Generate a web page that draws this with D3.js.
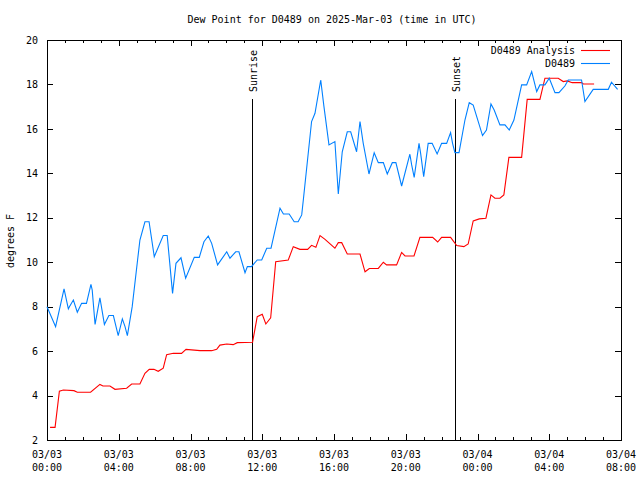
<!DOCTYPE html>
<html>
<head>
<meta charset="utf-8">
<script src="https://cdn.jsdelivr.net/npm/d3@7"></script>
<style>
  html, body { margin: 0; padding: 0; background: #fff; }
  svg { display: block; }
  text { font-family: "DejaVu Sans Mono", "Liberation Mono", monospace; font-size: 10px; fill: #000; }
</style>
</head>
<body>
<script>
// ---- data (hours since 2025-03-03 00:00 UTC, degrees F) ----
const titleText = "Dew Point for D0489 on 2025-Mar-03 (time in UTC)";
const yLabelText = "degrees F";
const seriesNames = ["D0489 Analysis", "D0489"];
const seriesColors = ["#ff0000", "#0080ff"];
const yTicks = [2, 4, 6, 8, 10, 12, 14, 16, 18, 20];
const eventNames = ["Sunrise", "Sunset"];
const eventHours = [11.43, 22.74];

const obsHours = [0,0.48,0.95,1.19,1.25,1.47,1.69,1.93,2.2,2.45,2.52,2.68,2.95,3.2,3.45,3.7,3.97,4.2,4.35,4.48,4.75,5.05,5.18,5.46,5.69,5.98,6.48,6.7,7.0,7.19,7.47,7.73,8.21,8.49,8.75,8.99,9.18,9.51,10.02,10.2,10.52,10.7,11.04,11.17,11.4,11.72,11.97,12.25,12.49,12.99,13.18,13.5,13.78,14.0,14.2,14.3,14.75,14.94,15.26,15.44,15.72,16.05,16.24,16.46,16.74,16.93,17.26,17.45,17.63,17.95,18.24,18.47,18.75,18.97,19.25,19.45,19.77,20.23,20.33,20.47,20.74,20.83,21.0,21.25,21.47,21.75,22.0,22.28,22.5,22.61,22.74,22.97,23.3,23.54,23.76,24.28,24.5,24.75,24.93,25.25,25.53,25.77,26.03,26.46,26.74,27.02,27.3,27.48,27.76,28.0,28.32,28.54,28.87,29.06,29.8,29.99,30.45,31.29,31.47,31.81];
const obsValues = [8.0,7.1,8.8,7.9,8.0,8.3,7.75,8.15,8.15,9.0,8.75,7.2,8.4,7.2,7.6,7.6,6.7,7.45,7.1,6.7,8.0,10.1,11.0,11.82,11.82,10.25,11.2,11.2,8.6,9.95,10.2,9.28,10.22,10.22,10.92,11.18,10.85,9.88,10.47,10.18,10.47,10.47,9.53,9.8,9.8,10.1,10.1,10.63,10.63,12.43,12.17,12.17,11.82,11.82,12.13,12.88,16.33,16.7,18.2,17.0,15.28,15.43,13.07,14.97,15.87,15.87,14.97,16.33,15.35,13.97,14.93,14.48,14.48,13.97,14.48,14.48,13.43,14.86,14.38,13.82,15.35,14.9,13.85,15.35,15.35,14.87,15.35,15.35,15.83,15.35,14.93,14.93,16.4,17.18,17.07,15.7,15.95,17.12,16.85,16.18,16.18,15.95,16.4,17.98,17.98,18.58,17.68,17.98,17.98,18.28,17.63,17.63,17.93,18.2,18.2,17.23,17.78,17.78,18.1,17.78];

const anaHours = [0.17,0.45,0.69,0.91,1.5,1.69,2.43,2.95,3.12,3.51,3.79,4.44,4.72,5.18,5.46,5.7,5.96,6.2,6.48,6.67,7.04,7.5,7.75,8.53,9.18,9.46,9.64,10.02,10.38,10.61,11.46,11.72,12.0,12.2,12.47,12.75,13.45,13.73,14.1,14.53,14.75,14.99,15.22,15.5,16.05,16.24,16.43,16.74,17.45,17.73,17.97,18.47,18.75,18.93,19.49,19.77,19.96,20.46,20.79,21.5,21.78,22.0,22.5,22.84,23.24,23.48,23.76,24.1,24.47,24.75,24.97,25.25,25.47,25.75,26.46,26.77,27.48,27.76,28.5,28.78,29.0,29.28,29.8,29.9,30.5];
const anaValues = [2.57,2.57,4.2,4.25,4.22,4.15,4.15,4.5,4.43,4.43,4.28,4.33,4.52,4.52,5.0,5.18,5.18,5.09,5.23,5.84,5.9,5.9,6.08,6.02,6.02,6.08,6.27,6.32,6.29,6.38,6.4,7.55,7.66,7.22,7.5,10.02,10.1,10.7,10.58,10.58,10.76,10.67,11.2,11.03,10.63,10.88,10.88,10.37,10.37,9.57,9.72,9.72,10.0,9.88,9.88,10.44,10.28,10.28,11.12,11.12,10.91,11.12,11.12,10.75,10.7,10.82,11.86,11.95,11.98,13.03,12.88,12.88,13.03,14.72,14.72,17.33,17.33,18.28,18.28,18.13,18.16,18.08,18.08,18.02,18.02];

// ---- layout ----
const W = 640, H = 480;
const mLeft = 47, mRight = 621, mTop = 40, mBottom = 440;
const t0 = Date.UTC(2025, 2, 3, 0, 0);
const t1 = Date.UTC(2025, 2, 4, 8, 0);
const toDate = h => new Date(t0 + h * 3600000);

const x = d3.scaleUtc().domain([new Date(t0), new Date(t1)]).range([mLeft, mRight]);
const y = d3.scaleLinear().domain([2, 20]).range([mBottom, mTop]);

const svg = d3.select("body").append("svg").attr("width", W).attr("height", H);

// title
svg.append("text").attr("x", 332).attr("y", 23).attr("text-anchor", "middle").text(titleText);
// y label
svg.append("text").attr("transform", "translate(14,241) rotate(-90)").attr("text-anchor", "middle").text(yLabelText);

const axisG = svg.append("g").attr("shape-rendering", "crispEdges");

// y ticks (left & right, inward)
const fmtY = d3.format("d");
const yl = axisG.append("g").attr("transform", `translate(${mLeft},0)`)
  .call(d3.axisLeft(y).tickValues(yTicks).tickSize(-6).tickPadding(9).tickFormat(fmtY));
const yr = axisG.append("g").attr("transform", `translate(${mRight},0)`)
  .call(d3.axisRight(y).tickValues(yTicks).tickSize(-6).tickFormat(""));

// x ticks: major every 4h, minor every 1h (bottom and top, inward)
const majorTicks = d3.utcHour.every(4).range(new Date(t0), new Date(t1 + 1));
const minorTicks = d3.utcHour.every(1).range(new Date(t0), new Date(t1 + 1));
const fmtD = d3.utcFormat("%m/%d"), fmtT = d3.utcFormat("%H:%M");
const xb = axisG.append("g").attr("transform", `translate(0,${mBottom})`)
  .call(d3.axisBottom(x).tickValues(minorTicks).tickSize(-3).tickFormat(""));
const xbM = axisG.append("g").attr("transform", `translate(0,${mBottom})`)
  .call(d3.axisBottom(x).tickValues(majorTicks).tickSize(-6).tickFormat(""));
const xt = axisG.append("g").attr("transform", `translate(0,${mTop})`)
  .call(d3.axisTop(x).tickValues(minorTicks).tickSize(-3).tickFormat(""));
const xtM = axisG.append("g").attr("transform", `translate(0,${mTop})`)
  .call(d3.axisTop(x).tickValues(majorTicks).tickSize(-6).tickFormat(""));

[yl, yr, xb, xbM, xt, xtM].forEach(g => {
  g.select(".domain").remove();
  g.selectAll("line").attr("stroke", "#000");
  g.attr("font-family", null).attr("font-size", null);
});

// x tick labels (two lines)
const lab = svg.append("g");
majorTicks.forEach(d => {
  const t = lab.append("text").attr("x", x(d)).attr("text-anchor", "middle");
  t.append("tspan").attr("x", x(d)).attr("y", 458).text(fmtD(d));
  t.append("tspan").attr("x", x(d)).attr("y", 471).text(fmtT(d));
});

// frame
axisG.append("rect").attr("x", mLeft).attr("y", mTop).attr("width", mRight - mLeft).attr("height", mBottom - mTop)
  .attr("fill", "none").attr("stroke", "#000");

// sunrise / sunset markers
eventNames.forEach((name, i) => {
  const ex = Math.round(x(toDate(eventHours[i]))) + 0.5;
  svg.append("line").attr("x1", ex).attr("x2", ex).attr("y1", 99).attr("y2", mBottom)
    .attr("stroke", "#000").attr("shape-rendering", "crispEdges");
  svg.append("text").attr("transform", `translate(${ex + 4},92) rotate(-90)`)
    .attr("text-anchor", "start").text(name);
});

// series lines
const line = d3.line().x(d => x(toDate(d[0]))).y(d => y(d[1]));
const anaData = anaHours.map((h, i) => [h, anaValues[i]]);
const obsData = obsHours.map((h, i) => [h, obsValues[i]]);
svg.append("path").datum(anaData).attr("d", line).attr("fill", "none").attr("stroke", seriesColors[0]).attr("stroke-width", 1.1);
svg.append("path").datum(obsData).attr("d", line).attr("fill", "none").attr("stroke", seriesColors[1]).attr("stroke-width", 1.1);

// legend
seriesNames.forEach((name, i) => {
  const ly = 50 + i * 13;
  svg.append("text").attr("x", 575).attr("y", ly).attr("dy", "0.35em").attr("text-anchor", "end").text(name);
  svg.append("line").attr("x1", 581).attr("x2", 610).attr("y1", ly + 0.5).attr("y2", ly + 0.5)
    .attr("stroke", seriesColors[i]).attr("stroke-width", 1.1);
});
</script>
</body>
</html>
